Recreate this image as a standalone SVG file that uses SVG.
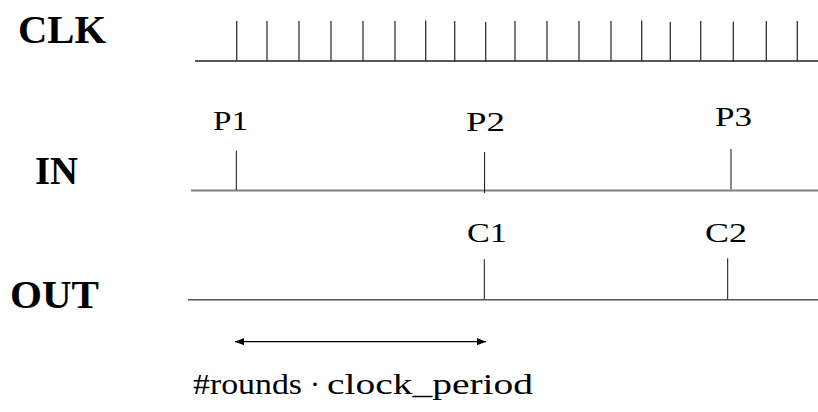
<svg xmlns="http://www.w3.org/2000/svg" width="818" height="412" viewBox="0 0 818 412">
<style>
.lbl{font-family:"Liberation Serif","Times New Roman",serif;font-weight:bold;fill:#000}
.txt{font-family:"Liberation Serif","Times New Roman",serif;fill:#000}
.tick{stroke:#333;stroke-width:1.3}
.mark{stroke:#111;stroke-width:1}
</style>
<defs>
<marker id="ah" viewBox="0 0 10 10" refX="10" refY="5" markerWidth="9" markerHeight="9" markerUnits="userSpaceOnUse" orient="auto-start-reverse">
<path d="M0,1 L10,5 L0,9 Z" fill="#000"/>
</marker>
</defs>
<rect width="818" height="412" fill="#fff"/>
<g id="clk">
<text class="lbl" x="18" y="43" font-size="39" textLength="88" lengthAdjust="spacingAndGlyphs">CLK</text>
<line x1="195" y1="61" x2="818" y2="61" stroke="#222" stroke-width="1.4"/>
<g class="tick">
<line x1="236.7" y1="21" x2="236.7" y2="61"/>
<line x1="267" y1="21" x2="267" y2="61"/>
<line x1="299" y1="21" x2="299" y2="61"/>
<line x1="331" y1="21" x2="331" y2="61"/>
<line x1="363" y1="21" x2="363" y2="61"/>
<line x1="395" y1="21" x2="395" y2="61"/>
<line x1="425.7" y1="20.5" x2="425.7" y2="61"/>
<line x1="454.7" y1="21" x2="454.7" y2="62"/>
<line x1="485.7" y1="22" x2="485.7" y2="62"/>
<line x1="515" y1="21" x2="515" y2="61"/>
<line x1="547" y1="21" x2="547" y2="61"/>
<line x1="579" y1="21" x2="579" y2="61"/>
<line x1="611" y1="21" x2="611" y2="61"/>
<line x1="641.7" y1="20.5" x2="641.7" y2="61"/>
<line x1="670.3" y1="22" x2="670.3" y2="62"/>
<line x1="700.7" y1="21" x2="700.7" y2="61"/>
<line x1="733.3" y1="21.5" x2="733.3" y2="62"/>
<line x1="766.3" y1="21" x2="766.3" y2="61"/>
<line x1="797.3" y1="21" x2="797.3" y2="61"/>
</g>
</g>
<g id="in">
<text class="lbl" x="35" y="184" font-size="41" textLength="43" lengthAdjust="spacingAndGlyphs">IN</text>
<line x1="191" y1="190.5" x2="818" y2="190.5" stroke="#808080" stroke-width="2"/>
<line class="mark" x1="236.3" y1="150.7" x2="236.3" y2="190"/>
<line class="mark" x1="484.6" y1="152" x2="484.6" y2="193"/>
<line class="mark" x1="731" y1="149" x2="731" y2="189.5"/>
<text class="txt" x="213" y="129.5" font-size="28" textLength="35" lengthAdjust="spacingAndGlyphs">P1</text>
<text class="txt" x="466" y="131" font-size="28" textLength="39" lengthAdjust="spacingAndGlyphs">P2</text>
<text class="txt" x="715" y="126" font-size="28" textLength="37" lengthAdjust="spacingAndGlyphs">P3</text>
</g>
<g id="out">
<text class="lbl" x="10" y="308" font-size="39" textLength="89" lengthAdjust="spacingAndGlyphs">OUT</text>
<line x1="188" y1="299.7" x2="818" y2="299.7" stroke="#555" stroke-width="1.5"/>
<line class="mark" x1="484.3" y1="259.3" x2="484.3" y2="299.5" stroke="#444"/>
<line class="mark" x1="727.7" y1="258.3" x2="727.7" y2="299.5" stroke="#444"/>
<text class="txt" x="467" y="242.3" font-size="28" textLength="40" lengthAdjust="spacingAndGlyphs">C1</text>
<text class="txt" x="705" y="242.3" font-size="28" textLength="42" lengthAdjust="spacingAndGlyphs">C2</text>
</g>
<g id="connectors">
<line x1="235" y1="341.7" x2="486" y2="341.7" stroke="#000" stroke-width="1.3" marker-start="url(#ah)" marker-end="url(#ah)"/>
</g>
<g id="duration-label">
<text class="txt" y="394" font-size="30"><tspan x="193" textLength="109" lengthAdjust="spacingAndGlyphs">#rounds</tspan><tspan x="310">·</tspan><tspan x="327" textLength="206" lengthAdjust="spacingAndGlyphs">clock_period</tspan></text>
</g>
</svg>
